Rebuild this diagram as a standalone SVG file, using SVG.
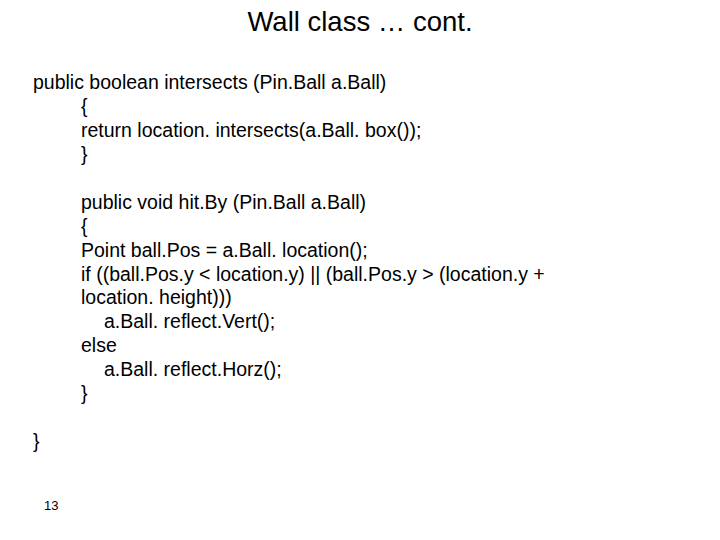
<svg xmlns="http://www.w3.org/2000/svg" width="720" height="540" viewBox="0 0 720 540">
<style>text{font-family:"Liberation Sans",Arial,sans-serif;fill:#000}.c{font-size:19.5px}</style>
<rect width="720" height="540" fill="#fff"/>
<text x="360" y="31" font-size="27.5" text-anchor="middle">Wall class … cont.</text>
<text class="c" x="33" y="89">public boolean intersects (Pin.Ball a.Ball)</text>
<text class="c" x="81" y="113">{</text>
<text class="c" x="81" y="137">return location. intersects(a.Ball. box());</text>
<text class="c" x="81" y="161">}</text>
<text class="c" x="81" y="209">public void hit.By (Pin.Ball a.Ball)</text>
<text class="c" x="81" y="233">{</text>
<text class="c" x="81" y="257">Point ball.Pos = a.Ball. location();</text>
<text class="c" x="81" y="281">if ((ball.Pos.y &lt; location.y) || (ball.Pos.y &gt; (location.y +</text>
<text class="c" x="81" y="304">location. height)))</text>
<text class="c" x="104" y="328">a.Ball. reflect.Vert();</text>
<text class="c" x="81" y="352">else</text>
<text class="c" x="104" y="376">a.Ball. reflect.Horz();</text>
<text class="c" x="81" y="400">}</text>
<text class="c" x="33" y="448">}</text>
<text x="44" y="510" font-size="13">13</text>
</svg>
